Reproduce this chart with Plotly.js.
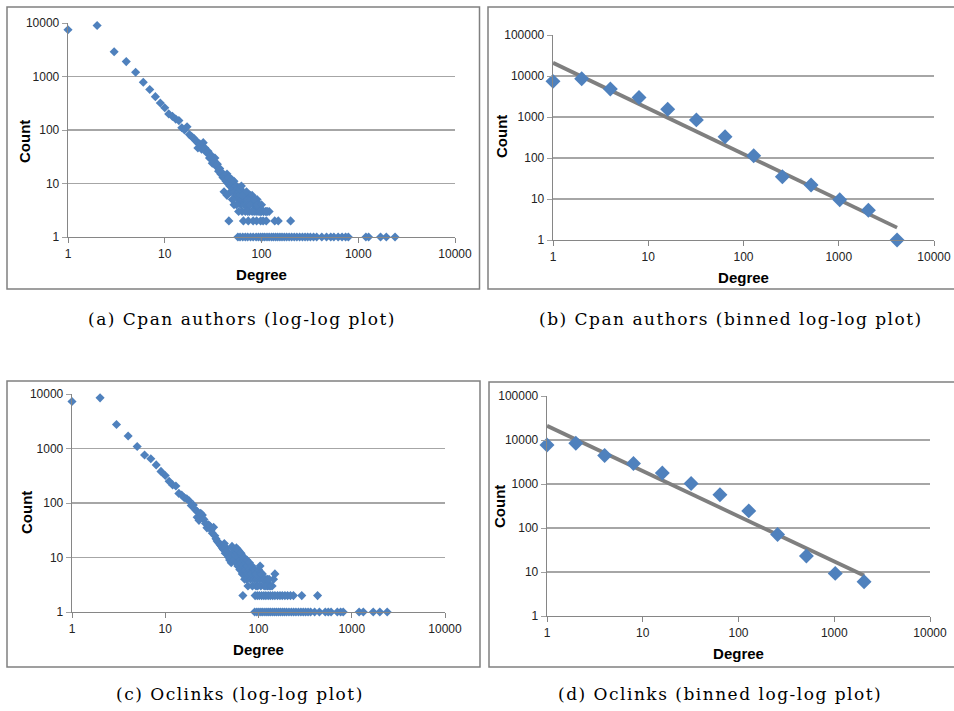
<!DOCTYPE html>
<html>
<head>
<meta charset="utf-8">
<script src="https://cdn.plot.ly/plotly-3.0.1.min.js"></script>
<style>html,body{margin:0;padding:0;background:#fff;}#chart{width:954px;height:711px;}</style>
</head>
<body>
<div id="chart"></div>
<script>
// ---- Data ----
// (a) Cpan authors, raw degree distribution
const degA = [1,2,3,4,5,6,7,8,9,10,
  11,12,13,14,15,16,17,18,19,20,
  21,22,22,23,24,25,26,27,28,29,
  30,31,32,33,34,35,36,37,38,39,
  40,41,41,42,43,44,45,46,46,47,
  48,49,50,51,52,53,54,55,56,57,
  58,59,60,61,62,63,64,65,66,67,
  68,69,70,72,74,75,76,78,80,82,
  84,86,88,90,92,95,98,100,105,112,120,
  44,50,52,55,58,60,62,64,70,72,76,80,85,90,95,100,105,110,115,
  65,73,82,89,98,104,112,137,149,200,
  57,60,64,68,72,77,82,88,93,98,103,108,114,120,127,133,140,147,155,163,172,182,193,205,218,232,248,265,282,300,320,345,372,420,470,520,560,620,680,740,790,1200,1280,1700,1950,2400];
const cntA = [7500,9000,2900,1900,1200,780,570,420,320,260,
  200,180,160,150,110,100,115,82,75,70,
  62,58,46,55,44,58,46,38,40,30,
  34,24,27,30,21,23,17,19,15,16,
  13,14,7,12,11,15,10,13,2,9,
  7,12,10,8,11,7,6,9,6,8,
  5,7,6,4,5,3,7,5,4,6,
  3,5,4,5,4,3,6,5,6,4,
  3,4,3,5,3,4,3,3,3,3,3,
  6,5,4,4,3,8,9,6,7,3,4,3,5,4,3,4,3,3,3,
  2,2,2,2,2,2,2,2,2,2,
  1,1,1,1,1,1,1,1,1,1,1,1,1,1,1,1,1,1,1,1,1,1,1,1,1,1,1,1,1,1,1,1,1,1,1,1,1,1,1,1,1,1,1,1,1,1];

// (b) Cpan authors, binned
const binB = [1,2,4,8,16,32,64,128,256,512,1024,2048,4096];
const cntB = [7400,8600,4800,3000,1540,850,330,114,35,22,9.6,5.3,1];
const fitB = [21000,9700,4500,2100,960,450,210,96,45,21,9.6,4.5,2.0];

// (c) Oclinks, raw degree distribution
const degC = [1,2,3,4,5,6,7,8,9,10,
  11,12,13,14,15,16,17,18,19,20,
  21,22,22,23,24,25,26,27,28,29,
  30,31,32,33,34,35,36,37,38,39,
  40,41,42,43,44,45,46,47,48,49,
  50,51,52,53,54,55,56,57,58,59,
  60,61,62,63,64,65,66,67,68,68,
  69,70,71,72,73,74,75,76,77,78,
  80,82,84,86,88,90,92,94,96,98,
  100,102,104,106,108,110,115,120,125,130,150,145,
  58,60,65,70,75,80,85,90,95,100,105,110,115,120,125,130,135,140,
  92,97,102,108,114,120,127,134,142,150,160,170,180,192,205,220,237,291,430,
  91,96,101,106,111,117,123,129,135,142,149,156,164,172,181,190,200,212,225,238,252,268,285,302,320,340,362,400,450,520,560,600,700,760,810,1200,1330,1700,2000,2400];
const cntC = [7300,8500,2750,1700,1090,760,650,500,380,320,
  250,215,205,150,140,125,120,110,90,92,
  75,55,70,48,65,60,50,42,35,40,
  38,32,28,36,25,22,20,19,18,17,
  16,15,14,18,12,15,13,11,10,9,
  10,8,16,12,14,9,11,13,8,12,
  7,10,13,6,9,8,11,5,7,2,
  6,9,4,6,5,8,4,7,3,5,
  6,4,5,3,6,4,5,3,4,3,
  5,4,7,3,5,4,3,4,3,3,5,4,
  15,14,12,10,9,8,7,6,5,6,5,5,4,3,4,4,3,3,
  2,2,2,2,2,2,2,2,2,2,2,2,2,2,2,2,2,2,2,
  1,1,1,1,1,1,1,1,1,1,1,1,1,1,1,1,1,1,1,1,1,1,1,1,1,1,1,1,1,1,1,1,1,1,1,1,1,1,1,1];

// (d) Oclinks, binned
const binD = [1,2,4,8,16,32,64,128,256,512,1024,2048];
const cntD = [7700,8400,4450,2930,1780,1030,570,245,71,23,9.3,6.0];
const fitD = [21000,10300,5000,2480,1220,600,290,143,70,34,17,8.3];

const xTickVals = [1,10,100,1000,10000];
const xTickText = ['1','10','100','1000','10000'];
const yTickVals4 = [1,10,100,1000,10000];
const yTickText4 = ['1','10','100','1000','10000'];
const yTickVals5 = [1,10,100,1000,10000,100000];
const yTickText5 = ['1','10','100','1000','10000','100000'];

const xTitle = 'Degree';
const yTitle = 'Count';
const captions = ['(a) Cpan authors (log-log plot)','(b) Cpan authors (binned log-log plot)',
                  '(c) Oclinks (log-log plot)','(d) Oclinks (binned log-log plot)'];

// ---- Styling ----
const W = 954, H = 711;
const blue = '#4f81bd';
const tickFont = {family:'Liberation Sans, Arial, sans-serif', size:12, color:'#222'};
const titleFont = {family:'Liberation Sans, Arial, sans-serif', size:15, color:'#000', weight:'bold'};

function px(x){return x/W;}
function py(y){return 1 - y/H;}

function xAx(l, r, anchor){
  return {domain:[px(l),px(r)], anchor:anchor, type:'log', range:[0,4],
    tickvals:xTickVals, ticktext:xTickText, ticks:'outside', ticklen:5, tickcolor:'#868686',
    showline:true, linecolor:'#868686', linewidth:1.3, showgrid:false, zeroline:false,
    tickfont:tickFont, title:{text:xTitle, font:titleFont, standoff:9}};
}
function yAx(bot, top, anchor, five){
  return {domain:[py(bot),py(top)], anchor:anchor, type:'log', range:[0, five?5:4],
    tickvals: five?yTickVals5:yTickVals4, ticktext: five?yTickText5:yTickText4,
    ticks:'outside', ticklen:5, tickcolor:'#a0a0a0',
    showline:true, linecolor:'#868686', linewidth:1.3, showgrid:true, gridcolor:'#a6a6a6', gridwidth:1.3,
    zeroline:false, tickfont:tickFont};
}

const traces = [
  {x:degA, y:cntA, xaxis:'x', yaxis:'y', mode:'markers', type:'scatter', cliponaxis:false,
   marker:{symbol:'diamond', size:7, color:blue}},
  {x:binB, y:fitB, xaxis:'x2', yaxis:'y2', mode:'lines', type:'scatter', cliponaxis:false,
   line:{color:'#7f7f7f', width:3.8}},
  {x:binB, y:cntB, xaxis:'x2', yaxis:'y2', mode:'markers', type:'scatter', cliponaxis:false,
   marker:{symbol:'diamond', size:11.5, color:blue}},
  {x:degC, y:cntC, xaxis:'x3', yaxis:'y3', mode:'markers', type:'scatter', cliponaxis:false,
   marker:{symbol:'diamond', size:7, color:blue}},
  {x:binD, y:fitD, xaxis:'x4', yaxis:'y4', mode:'lines', type:'scatter', cliponaxis:false,
   line:{color:'#7f7f7f', width:3.8}},
  {x:binD, y:cntD, xaxis:'x4', yaxis:'y4', mode:'markers', type:'scatter', cliponaxis:false,
   marker:{symbol:'diamond', size:11.5, color:blue}}
];

function box(l,t,r,b){
  return {type:'rect', xref:'paper', yref:'paper', x0:px(l), x1:px(r), y0:py(b), y1:py(t),
    line:{color:'#808080', width:1.5}, fillcolor:'rgba(0,0,0,0)', layer:'below'};
}
const capFont = {family:'DejaVu Serif, serif', size:17, color:'#000'};
function cap(text, x, y){
  return {text:'<span style="letter-spacing:1.5px">'+text+'</span>', xref:'paper', yref:'paper', x:px(x), y:py(y), showarrow:false,
    xanchor:'center', yanchor:'middle', font:capFont};
}
function ytitle(x, y){
  return {text:yTitle, xref:'paper', yref:'paper', x:px(x), y:py(y), showarrow:false,
    textangle:-90, xanchor:'center', yanchor:'middle', font:titleFont};
}

const layout = {
  width:W, height:H, margin:{l:0,r:0,t:0,b:0}, showlegend:false,
  paper_bgcolor:'#fff', plot_bgcolor:'rgba(0,0,0,0)',
  xaxis: xAx(68,455,'y'),   yaxis: yAx(237,23,'x',false),
  xaxis2:xAx(553,934,'y2'), yaxis2:yAx(240,35,'x2',true),
  xaxis3:xAx(72,445,'y3'),  yaxis3:yAx(612,394,'x3',false),
  xaxis4:xAx(547,930,'y4'), yaxis4:yAx(616,396,'x4',true),
  shapes:[box(7,7,479.5,289), box(488,7,970,289), box(7,381,480,667), box(489,382,970,667)],
  annotations:[cap(captions[0],242,319), cap(captions[1],731,319), cap(captions[2],240,694), cap(captions[3],720,694),
    ytitle(25,142), ytitle(501,137), ytitle(26,513), ytitle(500,507)]
};

Plotly.newPlot('chart', traces, layout, {displayModeBar:false, staticPlot:true});
</script>
</body>
</html>
